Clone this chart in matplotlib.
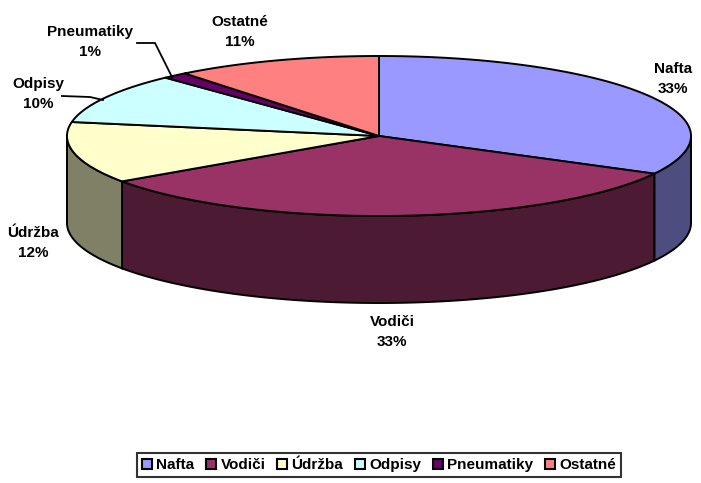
import matplotlib
matplotlib.use("Agg")
import matplotlib.pyplot as plt
from matplotlib.patches import Polygon, Patch
import numpy as np

plt.rcParams['font.family'] = ['Liberation Sans', 'DejaVu Sans']

# data
labels = ['Nafta', 'Vodiči', 'Údržba', 'Odpisy', 'Pneumatiky', 'Ostatné']
values = [32.8, 32.6, 12.4, 10.2, 1.3, 10.7]
top_colors = ['#9999FF', '#993366', '#FFFFCC', '#CCFFFF', '#660066', '#FF8080']
side_colors = ['#4D4D80', '#4D1A33', '#808066', '#668080', '#330033', '#804040']

# layout (pixels)
cx, cy, rx, ry, depth = 379, 136, 312, 80, 87
label_pos = [(673, 79), (392, 332), (33, 243), (38, 94), (90, 42), (240, 32)]

fig = plt.figure(figsize=(7.01, 4.83), dpi=100)
ax = fig.add_axes([0, 0, 1, 1])
ax.set_xlim(0, 701)
ax.set_ylim(483, 0)
ax.axis('off')

def arc(t1, t2, dy=0, n=200):
    t = np.radians(np.linspace(t1, t2, n))
    return np.column_stack([cx + rx*np.cos(t), cy - ry*np.sin(t) + dy])

vals = np.array(values)
pct = vals / vals.sum() * 100
fr = pct * 3.6
ends = 90 - np.cumsum(fr)
starts = ends + fr
lw = 1.4

# side walls (front half only)
for i in range(len(values)):
    hi = min(starts[i], 0)
    lo = max(ends[i], -180)
    if hi > lo:
        top = arc(hi, lo)
        bot = arc(lo, hi, dy=depth)
        ax.add_patch(Polygon(np.vstack([top, bot]), closed=True,
                             facecolor=side_colors[i], edgecolor='black', lw=lw))

# top faces
for i in range(len(values)):
    pts = np.vstack([[cx, cy], arc(starts[i], ends[i])])
    ax.add_patch(Polygon(pts, closed=True, facecolor=top_colors[i],
                         edgecolor='black', lw=lw, joinstyle='round'))

# data labels
for i, (x, y) in enumerate(label_pos):
    ax.text(x, y, '%s\n%d%%' % (labels[i], round(pct[i])), ha='center', va='center',
            fontsize=11, fontweight='bold', linespacing=1.5)

# leader lines
ax.plot([137, 155, 172], [43, 43, 77], color='black', lw=1.3)
ax.plot([62, 90, 103], [96, 97, 100], color='black', lw=1.3)

handles = [Patch(facecolor=c, edgecolor='black', lw=1.5) for c in top_colors]
leg = fig.legend(handles, labels, loc='center', bbox_to_anchor=(379/701, 1 - 465/483),
                 ncol=6, frameon=True, fancybox=False, edgecolor='black',
                 handlelength=0.65, handleheight=0.65, handletextpad=0.3,
                 columnspacing=0.75, borderpad=0.3, borderaxespad=0,
                 prop={'weight': 'bold', 'size': 11})
leg.get_frame().set_linewidth(1.5)

fig.savefig('out.png', dpi=100)
